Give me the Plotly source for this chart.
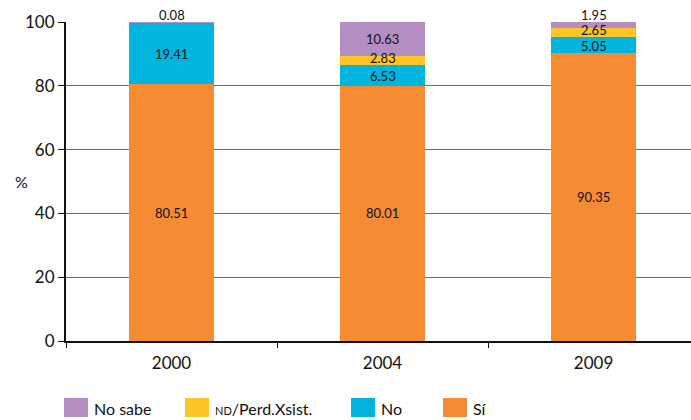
import plotly.graph_objects as go

# Survey responses by year (percent of respondents)
years = ["2000", "2004", "2009"]
si = [80.51, 80.01, 90.35]
no = [19.41, 6.53, 5.05]
nd = [0.0, 2.83, 2.65]
no_sabe = [0.08, 10.63, 1.95]

series = [
    ("Sí", si, "#F58B33", 0),
    ("No", no, "#00B5DD", -1),
    ("<span style='font-size:11px'>ND</span>/Perd.Xsist.", nd, "#FFC425", 2),
    ("No sabe", no_sabe, "#B38EC2", 0),
]

FONT = "Lato"
TXT = "#111"
fig = go.Figure()
for name, vals, color, _ in series:
    fig.add_trace(go.Bar(
        x=years, y=vals, name=name, marker=dict(color=color, line=dict(width=0)),
        width=0.403, hoverinfo="skip", showlegend=False,
    ))

# Value labels centred on each segment; a tiny top segment gets its label above the bar
base = [0.0] * len(years)
for name, vals, color, nudge in series:
    for i, v in enumerate(vals):
        if v > 0:
            if name == "No sabe" and v < 2.2:
                fig.add_annotation(x=i, y=base[i] + v, text=f"{v:.2f}", showarrow=False,
                                   yanchor="bottom", yshift=-2, borderpad=0,
                                   font=dict(family=FONT, size=13, color=TXT))
            else:
                fig.add_annotation(x=i, y=base[i] + v / 2, text=f"{v:.2f}", showarrow=False,
                                   yshift=nudge, borderpad=0,
                                   font=dict(family=FONT, size=13, color=TXT))
        base[i] += v

fig.add_annotation(xref="paper", yref="paper", x=-0.085, y=0.5, text="%",
                   showarrow=False, font=dict(family=FONT, size=16, color=TXT))

# Legend row below the axis: large swatches followed by the series names
legend_x = [64, 185, 351, 443]  # swatch left edges in pixels from the figure's left
for (name, vals, color, _), lx in zip(reversed(series), legend_x):
    x0 = (lx - 66) / 625
    x1 = (lx + 24 - 66) / 625
    fig.add_shape(type="rect", xref="paper", yref="paper", x0=x0, x1=x1,
                  y0=(341 - 417) / 319, y1=(341 - 398) / 319,
                  fillcolor=color, line=dict(width=0))
    fig.add_annotation(xref="paper", yref="paper", x=(lx + 28 - 66) / 625,
                       y=(341 - 408) / 319, xanchor="left", yanchor="middle",
                       text=name, showarrow=False,
                       font=dict(family=FONT, size=16, color=TXT))

fig.update_layout(
    width=691, height=420,
    margin=dict(l=66, r=0, t=22, b=79),
    barmode="stack",
    plot_bgcolor="white", paper_bgcolor="white",
    font=dict(family=FONT, size=16, color=TXT),
    showlegend=False,
    xaxis=dict(type="category", range=[-0.5, 2.462], showline=True, linecolor=TXT,
               linewidth=2, ticks="outside", tickson="boundaries", ticklen=5,
               tickcolor=TXT, showgrid=False, tickfont=dict(size=17),
               ticklabelstandoff=6),
    yaxis=dict(range=[0, 100], tickvals=[0, 20, 40, 60, 80, 100], showline=True,
               linecolor=TXT, linewidth=2, ticks="outside", ticklen=6,
               tickcolor=TXT, showgrid=True, gridcolor="#6e6e6e", gridwidth=1,
               zeroline=False, tickfont=dict(size=17)),
)

fig.write_html("out.html")
